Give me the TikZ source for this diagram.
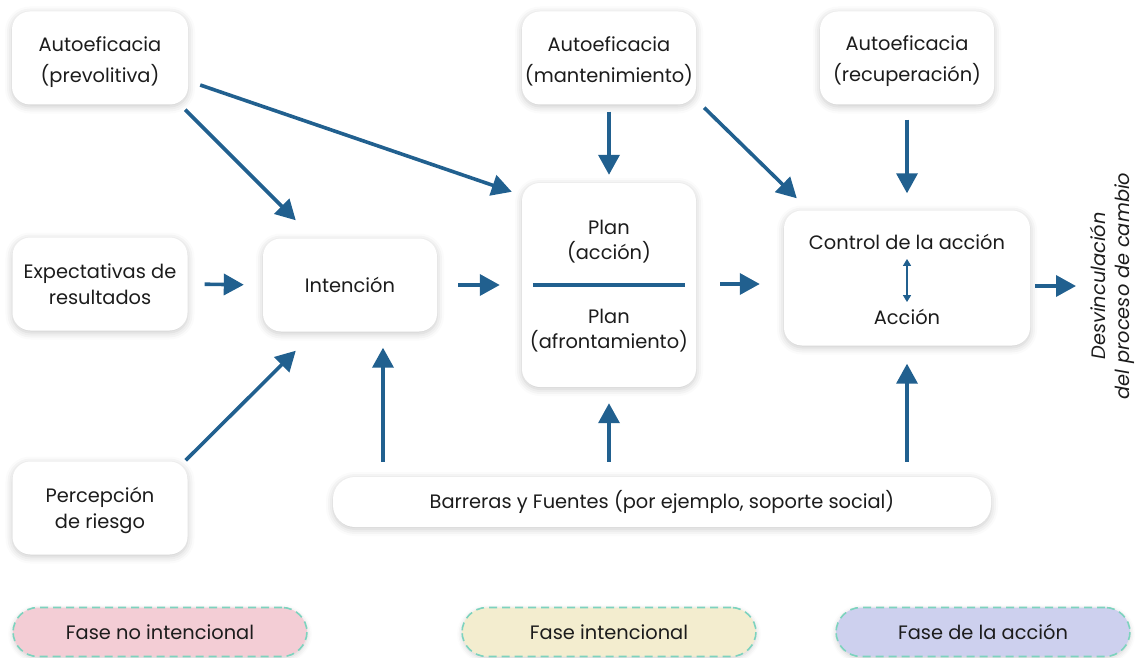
\documentclass[tikz,border=0pt]{standalone}
\usepackage{fontspec}
\setmainfont{Poppins}
\usetikzlibrary{arrows.meta,shadows.blur}
\definecolor{arrowblue}{HTML}{21608F}
\definecolor{txt}{HTML}{1C1C1C}
\definecolor{pinkfill}{HTML}{F3CDD5}
\definecolor{yellowfill}{HTML}{F3EDCF}
\definecolor{lavfill}{HTML}{CDD0EE}
\definecolor{dashteal}{HTML}{7DD3BE}
\begin{document}
\begin{tikzpicture}[x=1pt,y=-1pt,
  card/.style={draw=none,fill=white,rounded corners=18pt,
    blur shadow={shadow xshift=0pt,shadow yshift=-2pt,shadow blur radius=7pt,shadow opacity=22},
    align=center,text=txt,font=\fontsize{19.4}{31}\selectfont,inner sep=0pt},
  label/.style={text=txt,align=center,inner sep=0pt},
  phase/.style={fill=#1,draw=dashteal,dash pattern=on 8pt off 5pt,line width=1.6pt,
    rounded corners=25pt,minimum width=294pt,minimum height=49pt,
    blur shadow={shadow xshift=0pt,shadow yshift=-2pt,shadow blur radius=5pt,shadow opacity=18},
    text=txt,font=\fontsize{19.4}{22}\selectfont},
  arr/.style={draw=arrowblue,line width=3.6pt,-{Triangle[length=20pt,width=21pt]}},
  dbl/.style={draw=arrowblue,line width=1.6pt,{Triangle[length=7pt,width=8pt]}-{Triangle[length=7pt,width=8pt]}}
]
\useasboundingbox (0,0) rectangle (1137,658);

% left column
\node[card,minimum width=176pt,minimum height=93pt] (prev) at (100,58) {};
\node[label,font=\fontsize{19.4}{31}\selectfont] (prevt) at (100,62) {Autoeficacia\\(prevolitiva)};
\node[card,minimum width=175pt,minimum height=93pt] (expe) at (100,284) {};
\node[label,font=\fontsize{19.4}{26}\selectfont] (expet) at (100,284) {Expectativas de\\resultados};
\node[card,minimum width=175pt,minimum height=93pt] (perc) at (100,508) {};
\node[label,font=\fontsize{19.4}{26}\selectfont] (perct) at (100,510) {Percepción\\de riesgo};

% middle
\node[card,minimum width=174pt,minimum height=93pt] (int) at (350,285) {Intención};
\node[card,minimum width=174pt,minimum height=204pt] (plan) at (609,285) {};
\node[label,font=\fontsize{19.4}{25}\selectfont] (pacc) at (609,242) {Plan\\(acción)};
\node[label,font=\fontsize{19.4}{25}\selectfont] (pafr) at (609,331) {Plan\\(afrontamiento)};
\draw[arrowblue,line width=3.2pt] ([xshift=11]plan.west) -- ([xshift=-11]plan.east);
\node[card,minimum width=174pt,minimum height=93pt] (mant) at (609,58) {};
\node[label,font=\fontsize{19.4}{31}\selectfont] (mantt) at (609,61) {Autoeficacia\\(mantenimiento)};

% right
\node[card,minimum width=174pt,minimum height=93pt] (recu) at (907,58) {};
\node[label,font=\fontsize{19.4}{31}\selectfont] (recut) at (907,61) {Autoeficacia\\(recuperación)};
\node[card,minimum width=246pt,minimum height=135pt] (ctrl) at (907,278) {};
\node[label,font=\fontsize{19.4}{22}\selectfont] (cacc) at (907,242) {Control de la acción};
\node[label,font=\fontsize{19.4}{22}\selectfont] (acc) at (907,317) {Acción};
\draw[dbl] ([yshift=-9]cacc.south) -- ([yshift=7]acc.north);

% bottom bar
\node[card,minimum width=658pt,minimum height=50pt,rounded corners=22pt] (barr) at (662,502) {Barreras y Fuentes (por ejemplo, soporte social)};

% outcome
\node[rotate=90,label,font=\fontsize{19.4}{24}\itshape\selectfont] (desv) at (1112,286) {Desvinculación\\del proceso de cambio};

% phases
\node[phase=pinkfill] (f1) at (160,632) {Fase no intencional};
\node[phase=yellowfill] (f2) at (609,632) {Fase intencional};
\node[phase=lavfill] (f3) at (983,632) {Fase de la acción};

% connectors
\draw[arr] ([shift={(-3,5)}]prev.south east) -- ([shift={(33,-18)}]int.north west);
\draw[arr] ([shift={(12,27)}]prev.east) -- ([shift={(-10,9)}]plan.north west);
\draw[arr,shorten <=17pt,shorten >=19pt] (expe.east) -- (int.west);
\draw[arr] ([shift={(-2,-1)}]perc.north east) -- ([shift={(33,19)}]int.south west);
\draw[arr,shorten <=21pt,shorten >=22pt] (int.east) -- (plan.west);
\draw[arr,shorten <=7pt,shorten >=8pt] (mant.south) -- (plan.north);
\draw[arr] ([shift={(8,3)}]mant.south east) -- ([shift={(13,-12)}]ctrl.north west);
\draw[arr,shorten <=15pt,shorten >=17pt] (recu.south) -- (ctrl.north);
\coordinate (pe) at ([yshift=1]plan.east);
\draw[arr,shorten <=24pt,shorten >=24pt] (pe) -- (pe -| ctrl.west);
\coordinate (outend) at (1076,286);
\draw[arr,shorten <=5pt] (outend -| ctrl.east) -- (outend);
\coordinate (bi) at ([xshift=33]int.south);
\draw[arr,shorten <=15pt,shorten >=16pt] (barr.north -| bi) -- (bi);
\draw[arr,shorten <=15pt,shorten >=16pt] (barr.north -| plan.south) -- (plan.south);
\draw[arr,shorten <=15pt,shorten >=18pt] (barr.north -| ctrl.south) -- (ctrl.south);
\end{tikzpicture}
\end{document}
